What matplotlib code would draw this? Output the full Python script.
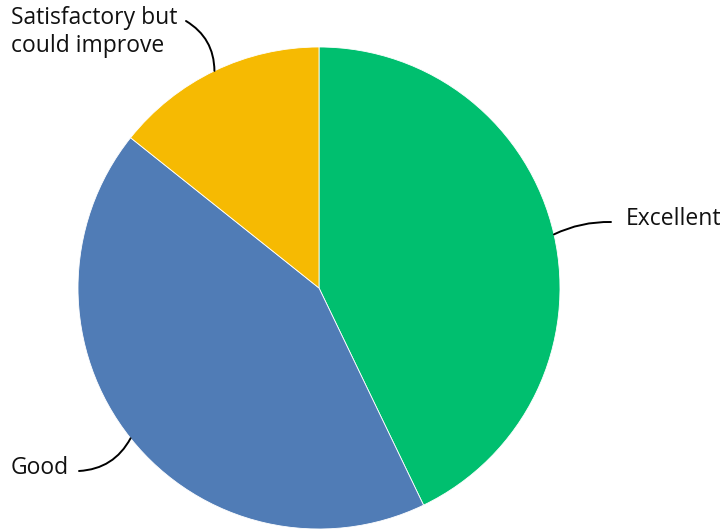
import matplotlib
matplotlib.use("Agg")
import matplotlib.pyplot as plt
import numpy as np

labels = ["Excellent", "Good", "Satisfactory but\ncould improve"]
counts = [3, 3, 1]
colors = ["#00BF6F", "#507CB6", "#F6BA02"]

W, H = 727, 531
fig = plt.figure(figsize=(W / 100, H / 100), dpi=100)
ax = fig.add_axes([0, 0, 1, 1])
ax.set_xlim(0, W)
ax.set_ylim(0, H)
ax.set_aspect("equal")
ax.axis("off")

cx, cy, r = 319, H - 288, 241
wedges, _ = ax.pie(counts, colors=colors, startangle=90, counterclock=False,
                   center=(cx, cy), radius=r,
                   wedgeprops=dict(edgecolor="white", linewidth=0.6))
ax.set_xlim(0, W)
ax.set_ylim(0, H)

font = dict(family=["Open Sans", "DejaVu Sans"], fontsize=16.5, color="#111111")

# label placement (text anchor, connector end, curvature)
label_pos = [
    ((626, H - 219), (611, H - 222), "left", -0.12),
    ((11, H - 468), (79, H - 471), "left", -0.28),
    ((11, H - 32), (186, H - 21), "left", 0.28),
]

for w, lab, (tpos, cend, ha, rad) in zip(wedges, labels, label_pos):
    mid = np.deg2rad((w.theta1 + w.theta2) / 2)
    ex, ey = cx + r * np.cos(mid), cy + r * np.sin(mid)
    ax.annotate("", xy=cend, xytext=(ex, ey),
                arrowprops=dict(arrowstyle="-", color="black", lw=1.4,
                                shrinkA=0, shrinkB=0,
                                connectionstyle=f"arc3,rad={rad}"))
    ax.text(tpos[0], tpos[1], lab, ha=ha, va="center", linespacing=1.2, **font)

fig.savefig("out.png", dpi=100)
